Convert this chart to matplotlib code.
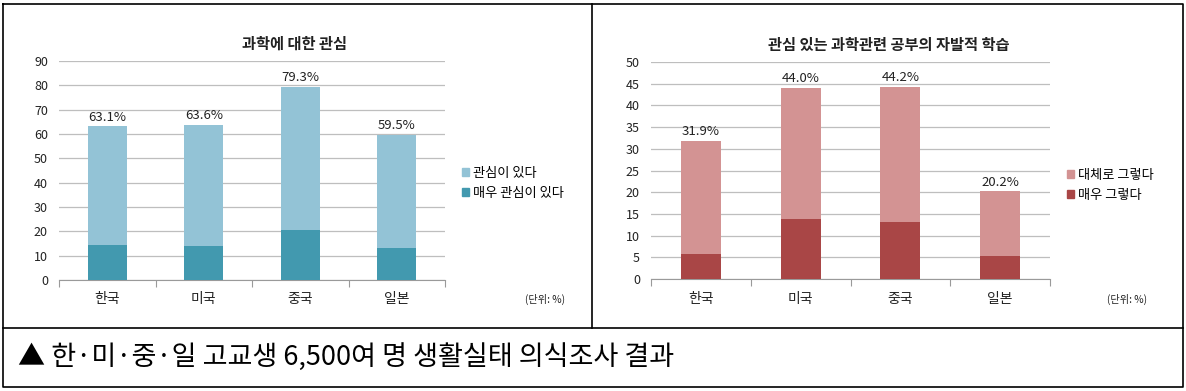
import matplotlib
matplotlib.use('Agg')
from matplotlib import pyplot as plt
from matplotlib.lines import Line2D
from matplotlib.patches import Patch

plt.rcParams['font.family'] = ['Noto Sans CJK KR', 'DejaVu Sans']

# data
countries = ['한국', '미국', '중국', '일본']

interest_total = [63.1, 63.6, 79.3, 59.5]       # 과학에 대한 관심 (합계)
interest_very = [14.5, 13.9, 20.7, 13.0]        # 매우 관심이 있다
study_total = [31.9, 44.0, 44.2, 20.2]          # 자발적 학습 (합계)
study_very = [5.8, 13.8, 13.2, 5.2]             # 매우 그렇다

W, H = 1186, 391
fig = plt.figure(figsize=(W / 100, H / 100), dpi=100)


def box(x0, y0, x1, y1):  # pixel coords, origin top-left
    return [x0 / W, (H - y1) / H, (x1 - x0) / W, (y1 - y0) / H]


def stacked(ax, total, very, c_light, c_dark, ymax, step, title):
    x = list(range(len(countries)))
    rest = [t - v for t, v in zip(total, very)]
    ax.bar(x, very, width=0.4, color=c_dark, zorder=3)
    ax.bar(x, rest, width=0.4, bottom=very, color=c_light, zorder=3)
    for xi, t in zip(x, total):
        ax.annotate('%.1f%%' % t, (xi, t), xytext=(0, 2), textcoords='offset points',
                    ha='center', va='bottom', fontsize=9.5, color='#222222')
    ax.set_xlim(-0.5, len(countries) - 0.5)
    ax.set_ylim(0, ymax)
    ax.set_yticks(range(0, ymax + 1, step))
    ax.yaxis.grid(True, color='#BEBEBE', linewidth=0.9, zorder=0)
    ax.set_axisbelow(True)
    for s in ['top', 'right', 'left']:
        ax.spines[s].set_visible(False)
    ax.spines['bottom'].set_color('#9A9A9A')
    ax.tick_params(axis='y', length=0, labelsize=9, pad=8, labelcolor='#222222')
    ax.set_xticks([i - 0.5 for i in range(len(countries) + 1)])
    ax.set_xticklabels([])
    ax.set_xticks(x, minor=True)
    ax.set_xticklabels(countries, minor=True)
    ax.tick_params(axis='x', which='major', length=5, color='#9A9A9A', direction='out')
    ax.tick_params(axis='x', which='minor', length=0, labelsize=10, pad=9,
                   labelcolor='#222222')
    ax.set_title(title, fontsize=11, fontweight='bold', pad=9, color='#222222')
    return [Patch(color=c_light), Patch(color=c_dark)]


# left chart
ax1 = fig.add_axes(box(59, 61, 445, 280))
h1 = stacked(ax1, interest_total, interest_very, '#93C3D6', '#4299AF',
             90, 10, '과학에 대한 관심')
ax1.title.set_position((0.61, 1))
fig.legend(h1, ['관심이 있다', '매우 관심이 있다'], loc='upper left',
           bbox_to_anchor=(450 / W, 1 - 155 / H), frameon=False, fontsize=9.5,
           handlelength=0.55, handleheight=0.55, handletextpad=0.3, labelspacing=0.55)
fig.text(545 / W, 1 - 299 / H, '(단위: %)', fontsize=7.3, ha='center', va='center',
         color='#222222')

# right chart
ax2 = fig.add_axes(box(651, 62, 1050, 279))
h2 = stacked(ax2, study_total, study_very, '#D39393', '#A94646',
             50, 5, '관심 있는 과학관련 공부의 자발적 학습')
ax2.title.set_position((0.595, 1))
fig.legend(h2, ['대체로 그렇다', '매우 그렇다'], loc='upper left',
           bbox_to_anchor=(1055 / W, 1 - 157 / H), frameon=False, fontsize=9.5,
           handlelength=0.55, handleheight=0.55, handletextpad=0.3, labelspacing=0.55)
fig.text(1127 / W, 1 - 299 / H, '(단위: %)', fontsize=7.3, ha='center', va='center',
         color='#222222')


# frame lines
def pline(xs, ys):
    fig.add_artist(Line2D([v / W for v in xs], [1 - v / H for v in ys],
                          color='black', linewidth=1.2))


pline([3, 1183, 1183, 3, 3], [4, 4, 387, 387, 4])
pline([3, 1183], [328, 328])
pline([592, 592], [4, 328])

fig.text(18 / W, 1 - 357 / H, '▲ 한·미·중·일 고교생 6,500여 명 생활실태 의식조사 결과',
         fontsize=19.5, ha='left', va='center', color='black')

fig.savefig('out.png', dpi=100)
